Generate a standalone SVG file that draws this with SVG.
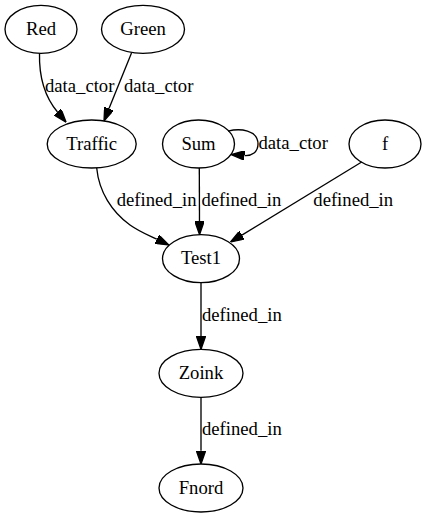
<svg xmlns="http://www.w3.org/2000/svg" width="429" height="517" viewBox="0 0 429 517">
<defs>
<marker id="arr" viewBox="0 0 10 7" refX="0" refY="3.5" markerWidth="13.33" markerHeight="9.33" markerUnits="userSpaceOnUse" orient="auto">
<path d="M0,0 L10,3.5 L0,7 z" fill="#000" stroke="#000" stroke-width="1"/>
</marker>
</defs>
<style>
.node ellipse{fill:none;stroke:#000;stroke-width:1.33}
text{font-family:"Liberation Serif","Times New Roman",serif;font-size:18.67px;fill:#000}
.node text{text-anchor:middle}
.edge path{fill:none;stroke:#000;stroke-width:1.33;marker-end:url(#arr)}
</style>
<rect width="429" height="517" fill="#fff"/>
<g id="edges">
<g class="edge" id="e_red_traffic"><path d="M39.5,53.3 C39,75 44,96 57.5,112"/><text x="45" y="92">data_ctor</text></g>
<g class="edge" id="e_green_traffic"><path d="M131.5,53 L109,108.6"/><text x="124" y="92">data_ctor</text></g>
<g class="edge" id="e_sum_sum"><path d="M228,131.2 C240,128 258,130 258,144 C258,152 252,156 244.5,155.5"/><text x="258.5" y="148.7">data_ctor</text></g>
<g class="edge" id="e_traffic_test1"><path d="M96.7,168 C99,192 112,212 130,225 C140,232 148,235 156.8,239.2"/><text x="116.7" y="206">defined_in</text></g>
<g class="edge" id="e_sum_test1"><path d="M199.3,168 L199.5,221.3"/><text x="201.5" y="206">defined_in</text></g>
<g class="edge" id="e_f_test1"><path d="M361.7,162 L241.9,235.1"/><text x="313.3" y="206.3">defined_in</text></g>
<g class="edge" id="e_test1_zoink"><path d="M201,282.7 L201,336"/><text x="202" y="320.5">defined_in</text></g>
<g class="edge" id="e_zoink_fnord"><path d="M201,397.3 L201,450.7"/><text x="202" y="435.2">defined_in</text></g>
</g>
<g class="node" id="Red"><ellipse cx="41" cy="29.3" rx="36" ry="24"/><text x="41" y="34.9">Red</text></g>
<g class="node" id="Green"><ellipse cx="143" cy="29.3" rx="41.5" ry="24"/><text x="143" y="34.9">Green</text></g>
<g class="node" id="Traffic"><ellipse cx="91.7" cy="144" rx="44.5" ry="24"/><text x="91.7" y="149.6">Traffic</text></g>
<g class="node" id="Sum"><ellipse cx="198.5" cy="144" rx="36" ry="24"/><text x="198.5" y="149.6">Sum</text></g>
<g class="node" id="f"><ellipse cx="385" cy="144" rx="36" ry="24"/><text x="385" y="149.6">f</text></g>
<g class="node" id="Test1"><ellipse cx="201" cy="258.7" rx="38.5" ry="24"/><text x="201" y="264.3">Test1</text></g>
<g class="node" id="Zoink"><ellipse cx="201" cy="373.3" rx="42" ry="24"/><text x="201" y="378.9">Zoink</text></g>
<g class="node" id="Fnord"><ellipse cx="201" cy="488" rx="42" ry="24"/><text x="201" y="493.6">Fnord</text></g>
</svg>
